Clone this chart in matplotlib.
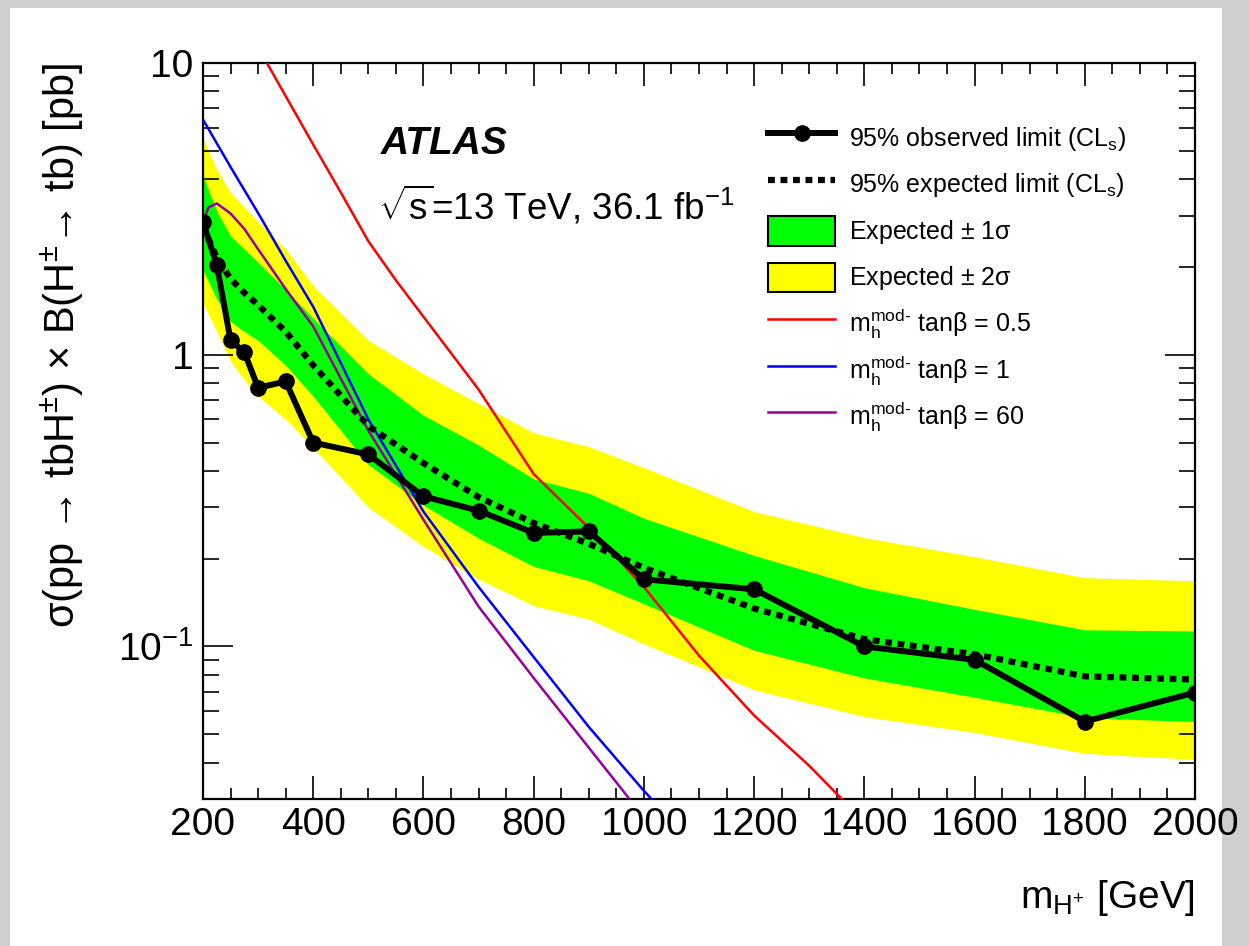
import numpy as np
import matplotlib
matplotlib.use("Agg")
import matplotlib.pyplot as plt
from matplotlib.ticker import FixedLocator, MultipleLocator, NullFormatter, FixedFormatter
from matplotlib.lines import Line2D
from matplotlib.patches import Patch, Rectangle
from matplotlib.legend_handler import HandlerPatch

plt.rcParams['font.family'] = ['Liberation Sans', 'DejaVu Sans']
plt.rcParams['mathtext.fontset'] = 'custom'
plt.rcParams['mathtext.rm'] = 'Liberation Sans'
plt.rcParams['mathtext.it'] = 'Liberation Sans:italic'
plt.rcParams['mathtext.bf'] = 'Liberation Sans:bold'
plt.rcParams['mathtext.sf'] = 'Liberation Sans'

# masses of the limit points (GeV)
mass = [200, 225, 250, 275, 300, 350, 400, 500, 600, 700, 800, 900, 1000, 1200, 1400, 1600, 1800, 2000]
observed = [2.85, 2.03, 1.12, 1.02, 0.77, 0.81, 0.50, 0.455, 0.327, 0.292, 0.245, 0.248, 0.170, 0.157,
            0.100, 0.090, 0.0553, 0.0695]
expected = [2.75, 2.15, 1.82, 1.63, 1.48, 1.20, 0.92, 0.57, 0.425, 0.325, 0.265, 0.225, 0.186, 0.135,
            0.106, 0.094, 0.079, 0.077]
up1 = [4.1, 3.1, 2.55, 2.3, 2.07, 1.67, 1.33, 0.86, 0.62, 0.49, 0.375, 0.335, 0.275, 0.205,
       0.159, 0.134, 0.114, 0.113]
dn1 = [1.95, 1.55, 1.3, 1.2, 1.12, 0.92, 0.72, 0.42, 0.305, 0.235, 0.188, 0.168, 0.14, 0.097,
       0.078, 0.067, 0.057, 0.0553]
up2 = [5.5, 4.3, 3.6, 3.2, 2.85, 2.3, 1.72, 1.12, 0.86, 0.68, 0.54, 0.484, 0.41, 0.29,
       0.236, 0.203, 0.172, 0.168]
dn2 = [1.5, 1.2, 0.95, 0.82, 0.72, 0.6, 0.48, 0.3, 0.22, 0.17, 0.138, 0.124, 0.102, 0.071,
       0.0575, 0.0507, 0.043, 0.041]

# mh-mod- model predictions
red_m = [300, 350, 400, 450, 500, 550, 600, 700, 800, 900, 1000, 1100, 1200, 1300, 1400]
red_xs = [11.3, 7.7, 5.25, 3.6, 2.45, 1.8, 1.35, 0.76, 0.39, 0.255, 0.16, 0.093, 0.058, 0.039, 0.025]
blue_m = [200, 250, 300, 350, 400, 500, 600, 700, 800, 900, 1000, 1100]
blue_xs = [6.4, 4.4, 3.06, 2.1, 1.46, 0.60, 0.29, 0.16, 0.092, 0.053, 0.032, 0.02]
purple_m = [200, 210, 225, 250, 275, 300, 350, 400, 500, 600, 700, 800, 900, 1000]
purple_xs = [2.85, 3.2, 3.3, 3.05, 2.7, 2.3, 1.68, 1.25, 0.55, 0.272, 0.137, 0.078, 0.045, 0.026]


def box_patch(legend, orig_handle, xdescent, ydescent, width, height, fontsize):
    # smaller filled box than the full handle height
    return Rectangle((-xdescent, -ydescent + 0.07 * height), width, 0.86 * height)


fig = plt.figure(figsize=(12.49, 9.46), dpi=100)
fig.patch.set_facecolor('#cfcfcf')
fig.add_artist(Rectangle((10 / 1249, 0), 1212 / 1249, 938 / 946, transform=fig.transFigure,
                         facecolor='white', edgecolor='none', zorder=-5))
ax = fig.add_axes([203 / 1249, 1 - 799 / 946, 992 / 1249, 736 / 946])
ax.set_facecolor('white')

ax.fill_between(mass, dn2, up2, color='#ffff00', lw=0, zorder=1)
ax.fill_between(mass, dn1, up1, color='#00ff00', lw=0, zorder=2)
ax.plot(red_m, red_xs, color='#ff0000', lw=1.8, zorder=3)
ax.plot(blue_m, blue_xs, color='#0000ff', lw=1.8, zorder=3)
ax.plot(purple_m, purple_xs, color='#990099', lw=1.8, zorder=3)
ax.plot(mass, expected, color='black', lw=4.5, ls=(0, (1.1, 0.9)), zorder=4)
ax.plot(mass, observed, color='black', lw=4.3, marker='o', ms=11, zorder=5)

ax.set_yscale('log')
ax.set_xlim(200, 2000)
ax.set_ylim(0.03, 10)

ax.xaxis.set_major_locator(FixedLocator(np.arange(200, 2001, 200)))
ax.xaxis.set_minor_locator(MultipleLocator(50))
ax.yaxis.set_major_locator(FixedLocator([0.1, 1, 10]))
ax.yaxis.set_major_formatter(FixedFormatter(['$10^{-1}$', '1', '10']))
ax.yaxis.set_minor_locator(FixedLocator([k * 10.0 ** e for e in (-2, -1, 0) for k in range(2, 10)]))
ax.yaxis.set_minor_formatter(NullFormatter())

ax.tick_params(which='both', direction='in', top=True, right=True, width=1.2, labelsize=28)
ax.tick_params(axis='x', which='major', length=16.5, pad=6)
ax.tick_params(axis='x', which='minor', length=8)
ax.tick_params(axis='y', which='major', length=21.5, pad=7)
ax.tick_params(axis='y', which='minor', length=11.5)
for s in ax.spines.values():
    s.set_linewidth(1.6)

ax.set_xlabel(r'm$_{\mathrm{H^{+}}}$ [GeV]', fontsize=28, loc='right')
ax.xaxis.set_label_coords(1.0, -0.108)
ax.set_ylabel(r'σ(pp → tbH$^{\pm}$) × B(H$^{\pm}$→ tb) [pb]', fontsize=30, loc='top')
ax.yaxis.set_label_coords(-0.118, 1.0)

ax.text(0.179, 0.876, 'ATLAS', transform=ax.transAxes, fontsize=28, fontweight='bold',
        fontstyle='italic')
ax.text(0.176, 0.787, r'$\sqrt{\mathrm{s}}$=13 TeV, 36.1 fb$^{\mathrm{-1}}$', transform=ax.transAxes,
        fontsize=26.5)

handles = [
    Line2D([], [], color='black', lw=4.3, marker='o', ms=11),
    Line2D([], [], color='black', lw=4.5, ls=(0, (1.1, 0.9))),
    Patch(facecolor='#00ff00', edgecolor='black', lw=1.5),
    Patch(facecolor='#ffff00', edgecolor='black', lw=1.5),
    Line2D([], [], color='#ff0000', lw=1.8),
    Line2D([], [], color='#0000ff', lw=1.8),
    Line2D([], [], color='#990099', lw=1.8),
]
labels = [
    r'95% observed limit (CL$_{\mathrm{s}}$)',
    r'95% expected limit (CL$_{\mathrm{s}}$)',
    r'Expected $\pm$ 1σ',
    r'Expected $\pm$ 2σ',
    r'm$_{\mathrm{h}}^{\mathrm{mod‐}}$ tanβ = 0.5',
    r'm$_{\mathrm{h}}^{\mathrm{mod‐}}$ tanβ = 1',
    r'm$_{\mathrm{h}}^{\mathrm{mod‐}}$ tanβ = 60',
]
ax.legend(handles, labels, loc='upper left', bbox_to_anchor=(0.5695, 0.922), frameon=False,
          fontsize=18, handlelength=2.7, handleheight=1.75, handletextpad=0.55,
          labelspacing=0.48, borderpad=0, borderaxespad=0,
          handler_map={Patch: HandlerPatch(patch_func=box_patch)})

fig.savefig('out.png', dpi=100, facecolor=fig.get_facecolor())
